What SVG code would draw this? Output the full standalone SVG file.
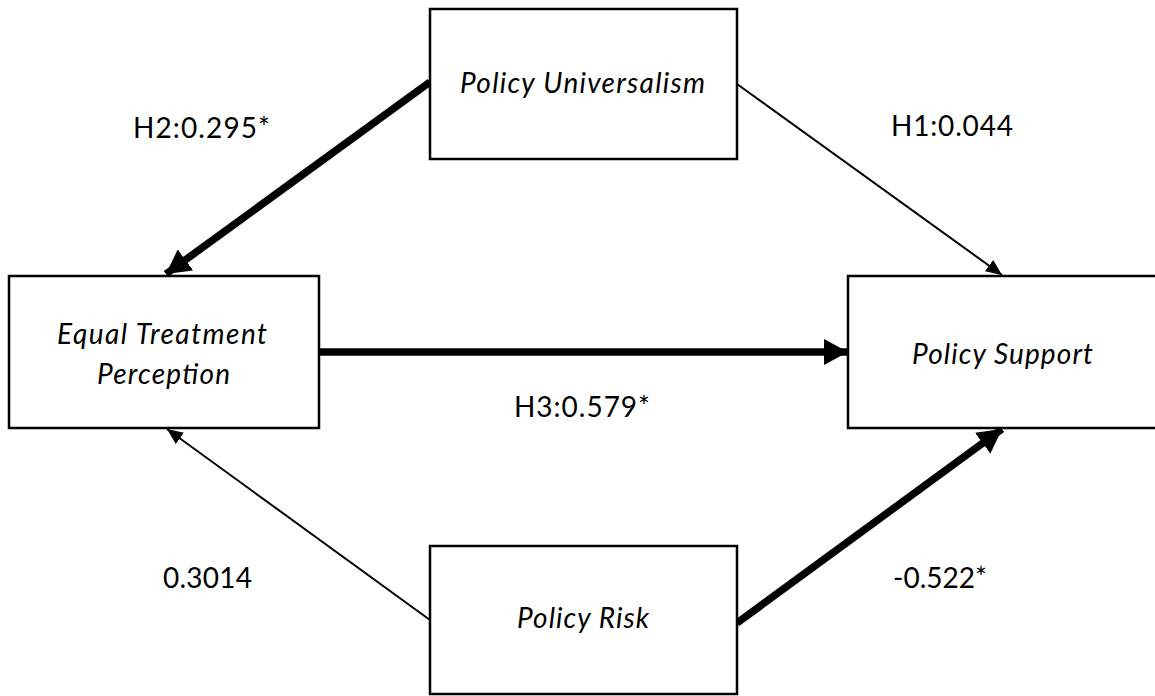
<svg xmlns="http://www.w3.org/2000/svg" width="1155" height="696" viewBox="0 0 1155 696">
  <style>
    .box { fill: #ffffff; stroke: #000000; stroke-width: 2.5; }
    .name { font-family: Lato, "Open Sans", "Liberation Sans", sans-serif; font-style: italic; font-size: 28px; fill: #000000; text-anchor: start; }
    .coef { font-family: Lato, "Open Sans", "Liberation Sans", sans-serif; font-size: 28px; fill: #000000; text-anchor: start; }
    .thin { stroke: #000000; stroke-width: 2; fill: none; }
    .thick { stroke: #000000; stroke-width: 7.5; fill: none; }
  </style>
  <defs>
    <marker id="headThin" markerUnits="userSpaceOnUse" viewBox="0 0 16 14" refX="16" refY="7" markerWidth="16" markerHeight="14" orient="auto">
      <path d="M0,0 L16,7 L0,14 Z" fill="#000000"/>
    </marker>
    <marker id="headThick" markerUnits="userSpaceOnUse" viewBox="0 0 24 26" refX="24" refY="13" markerWidth="24" markerHeight="26" orient="auto">
      <path d="M0,0 L24,13 L0,26 Z" fill="#000000"/>
    </marker>
  </defs>

  <rect width="1155" height="696" fill="#ffffff"/>

  <!-- paths between the constructs -->
  <g id="connectors">
    <line class="thick" x1="430" y1="82" x2="166" y2="274" marker-end="url(#headThick)"/>
    <line class="thin" x1="737" y1="84" x2="1002" y2="275" marker-end="url(#headThin)"/>
    <line class="thick" x1="320" y1="352" x2="848" y2="352" marker-end="url(#headThick)"/>
    <line class="thin" x1="430" y1="620" x2="167" y2="429" marker-end="url(#headThin)"/>
    <line class="thick" x1="737" y1="623" x2="1002" y2="429" marker-end="url(#headThick)"/>
  </g>

  <!-- path coefficients -->
  <g id="labels">
    <text class="coef" x="133" y="138" textLength="137" lengthAdjust="spacing">H2:0.295*</text>
    <text class="coef" x="891" y="136" textLength="122" lengthAdjust="spacing">H1:0.044</text>
    <text class="coef" x="514" y="417" textLength="136" lengthAdjust="spacing">H3:0.579*</text>
    <text class="coef" x="163" y="588" textLength="89" lengthAdjust="spacing">0.3014</text>
    <text class="coef" x="893" y="588" textLength="94" lengthAdjust="spacing">-0.522*</text>
  </g>

  <g id="node-universalism">
    <rect class="box" x="430" y="9" width="307" height="150"/>
    <text class="name" x="460" y="93" textLength="245" lengthAdjust="spacing">Policy Universalism</text>
  </g>

  <g id="node-equal-treatment">
    <rect class="box" x="9" y="276" width="310" height="152"/>
    <text class="name" x="57" y="344" textLength="210" lengthAdjust="spacing">Equal Treatment</text>
    <text class="name" x="97" y="384" textLength="133" lengthAdjust="spacing">Perception</text>
  </g>

  <g id="node-support">
    <rect class="box" x="848" y="276" width="320" height="152"/>
    <text class="name" x="912" y="364" textLength="181" lengthAdjust="spacing">Policy Support</text>
  </g>

  <g id="node-risk">
    <rect class="box" x="430" y="546" width="307" height="148"/>
    <text class="name" x="517" y="628" textLength="132" lengthAdjust="spacing">Policy Risk</text>
  </g>
</svg>
